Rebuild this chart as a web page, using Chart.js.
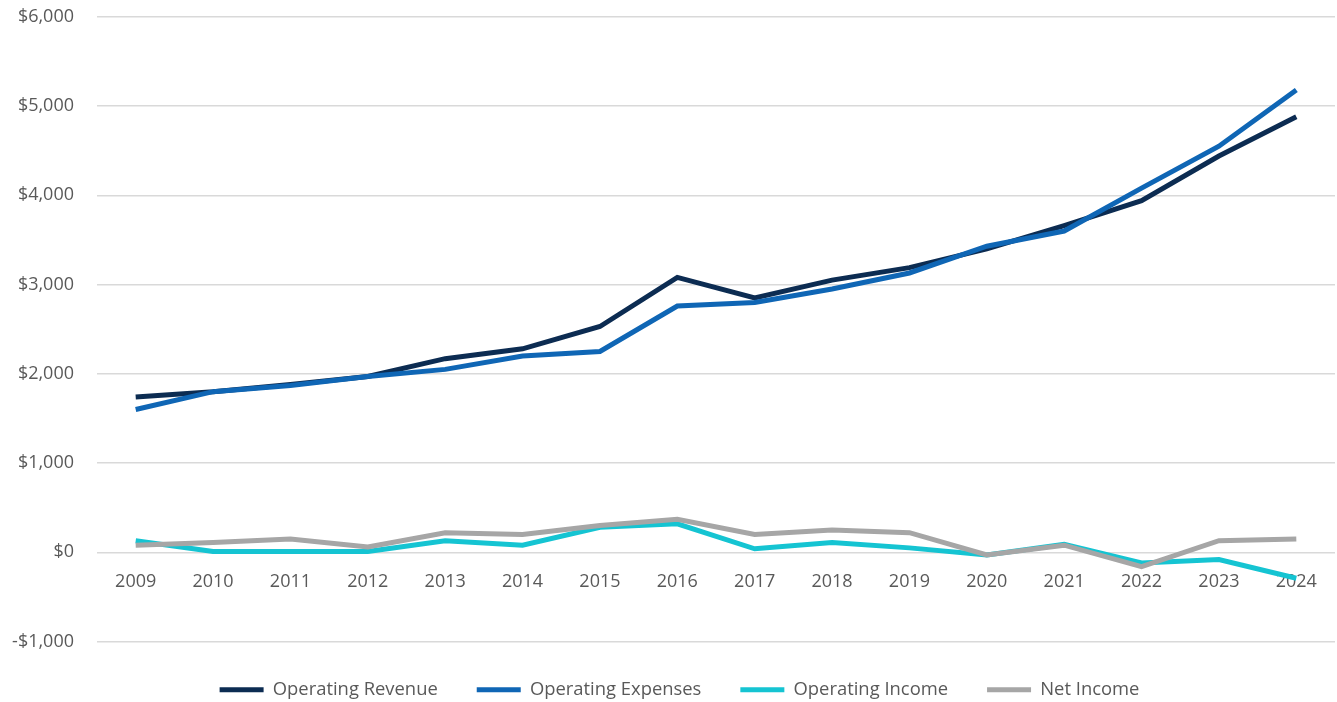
<!DOCTYPE html>
<html>
<head>
<meta charset="utf-8">
<script src="https://cdn.jsdelivr.net/npm/chart.js@4"></script>
<style>
  html, body { margin: 0; padding: 0; background: #fff; }
  #wrap { width: 1337px; height: 702px; }
</style>
</head>
<body>
<div id="wrap"><canvas id="finChart"></canvas></div>
<script>
// Chart values
const years = ['2009', '2010', '2011', '2012', '2013', '2014', '2015', '2016',
               '2017', '2018', '2019', '2020', '2021', '2022', '2023', '2024'];
const operatingRevenue  = [1740, 1800, 1880, 1970, 2170, 2280, 2530, 3080, 2850, 3050, 3190, 3400, 3660, 3940, 4440, 4880];
const operatingExpenses = [1600, 1800, 1870, 1970, 2050, 2200, 2250, 2760, 2800, 2950, 3130, 3430, 3600, 4080, 4550, 5180];
const operatingIncome   = [130, 10, 10, 10, 130, 80, 280, 320, 40, 110, 50, -30, 90, -120, -80, -290];
const netIncome         = [80, 110, 150, 60, 220, 200, 300, 370, 200, 250, 220, -30, 80, -160, 130, 150];
const yTicks = [-1000, 0, 1000, 2000, 3000, 4000, 5000, 6000];

const seriesNames = ['Operating Revenue', 'Operating Expenses', 'Operating Income', 'Net Income'];
const seriesColors = ['#0c2c52', '#0f66b5', '#15c4d2', '#a6a6a6'];
const seriesData = [operatingRevenue, operatingExpenses, operatingIncome, netIncome];

function money(v) {
    const s = '$' + Math.abs(v).toLocaleString('en-US');
    return v < 0 ? '-' + s : s;
}

// legend sits a little right of centre in the original
const legendNudge = {
    id: 'legendNudge',
    afterLayout(chart) {
        chart.legend.left += 12;
        chart.legend.right += 12;
    }
};

const ctx = document.getElementById('finChart').getContext('2d');
new Chart(ctx, {
    type: 'line',
    data: {
        labels: years,
        datasets: seriesData.map((d, i) => ({
            label: seriesNames[i],
            data: d,
            borderColor: seriesColors[i],
            backgroundColor: seriesColors[i],
            borderWidth: 5,
            pointRadius: 0,
            pointStyle: 'line',
            tension: 0,
            order: 3 - i
        }))
    },
    plugins: [legendNudge],
    options: {
        responsive: true,
        maintainAspectRatio: false,
        animation: false,
        layout: {
            padding: { top: 0, right: 2, bottom: -7, left: 0 }
        },
        plugins: {
            tooltip: { enabled: false },
            legend: {
                position: 'bottom',
                labels: {
                    usePointStyle: true,
                    pointStyle: 'line',
                    pointStyleWidth: 44,
                    padding: 39,
                    color: '#595959',
                    font: { family: 'Open Sans', size: 18.4 },
                    sort: (a, b) => a.datasetIndex - b.datasetIndex
                }
            }
        },
        scales: {
            x: {
                position: { y: 0 },
                offset: true,
                grid: { display: false, drawTicks: false },
                border: { display: false },
                ticks: {
                    color: '#595959',
                    padding: 19,
                    maxRotation: 0,
                    font: { family: 'Open Sans', size: 18 }
                }
            },
            y: {
                min: -1000,
                max: 6000,
                afterFit: s => { s.width = 97; },
                afterBuildTicks: s => { s.ticks = yTicks.map(v => ({ value: v })); },
                grid: { color: '#d9d9d9', lineWidth: 1.5, tickLength: 17, tickColor: 'rgba(0,0,0,0)' },
                border: { display: false },
                ticks: {
                    color: '#595959',
                    padding: 6,
                    font: { family: 'Open Sans', size: 18 },
                    callback: v => money(v)
                }
            }
        }
    }
});
</script>
</body>
</html>
